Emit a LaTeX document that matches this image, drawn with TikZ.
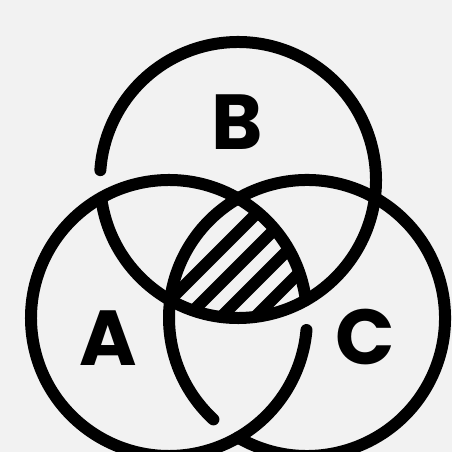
\documentclass[tikz,border=0pt]{standalone}
\usepackage{fontspec}
\setmainfont{Poppins}
\usetikzlibrary{
  calc  % 坐标计算
}
\definecolor{bgcol}{HTML}{F2F2F2}

\begin{document}
\begin{tikzpicture}[x=1pt, y=1pt, line width=12pt, line cap=round,
  letter/.style={inner sep=0pt, font=\fontsize{78}{78}\selectfont\bfseries}]

  % =========== 背景 ===========
  \fill[bgcol] (0,0) rectangle (452,452);
  \useasboundingbox (0,0) rectangle (452,452);
  \clip (0,0) rectangle (452,452);

  % 三个圆心 (半径 138)
  \coordinate (A) at (169,134);
  \coordinate (B) at (238,272);
  \coordinate (C) at (307,134);

  % =========== 三圆交集：斜线 ===========
  \begin{scope}
    \clip (A) circle (138);
    \clip (B) circle (138);
    \clip (C) circle (138);
    \foreach \c in {470,504,538,572}
      \draw[line cap=butt] (150,602-\c) -- (330,782-\c);
  \end{scope}

  % =========== 三个圆 (留断口) ===========
  % 圆 B：左侧在圆 A 上方断开
  \draw ($(B)+(187.5:138)$) arc (187.5:535.9:138);
  % 圆 A：右侧在圆 B 下方断开
  \draw ($(A)+(7.45:138)$) arc (7.45:355:138);
  % 圆 C：左下在圆 A 上方断开
  \draw ($(C)+(240:138)$) arc (240:587.3:138);

  % =========== 字母 ===========
  \node[letter] (labB) at (237,330) {B};
  \node[letter] (labA) at (108,114) {A};
  \node[letter] (labC) at (365,115) {C};

\end{tikzpicture}
\end{document}
